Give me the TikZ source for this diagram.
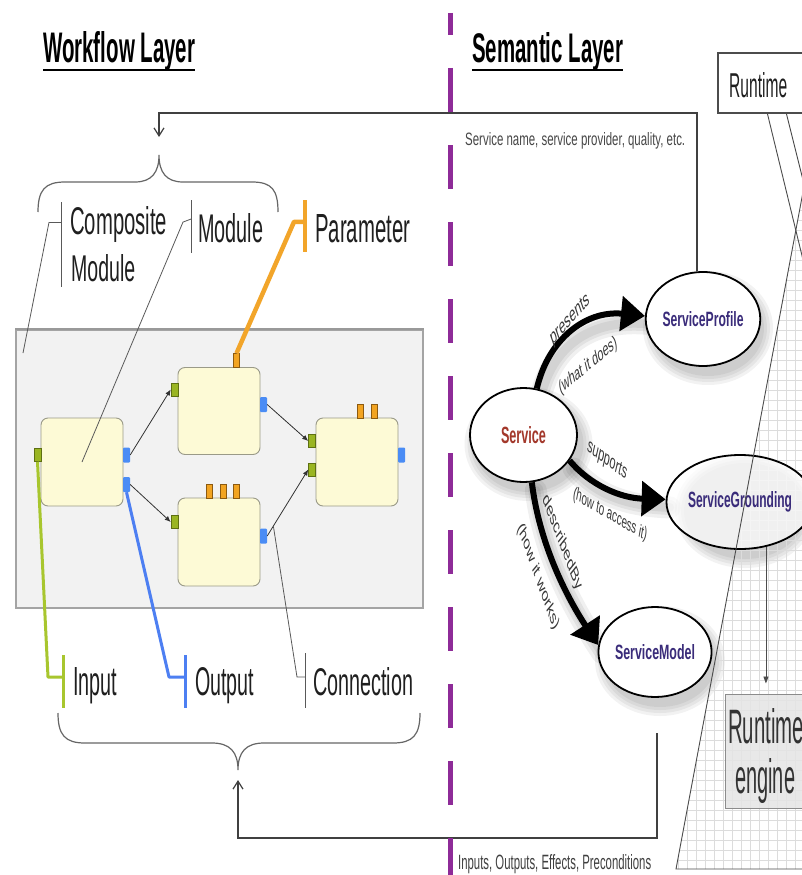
\documentclass[tikz,border=0pt]{standalone}
\usepackage{fontspec}
\setmainfont{Liberation Sans}
\usepackage{graphicx}
\usetikzlibrary{shapes.geometric,arrows.meta,calc}
\pgfdeclarelayer{bg}
\pgfsetlayers{bg,main}

\definecolor{panelfill}{HTML}{F2F2F2}
\definecolor{panelline}{HTML}{A4A4A4}
\definecolor{modfill}{HTML}{FDFAD6}
\definecolor{modline}{HTML}{9A9A88}
\definecolor{portgreen}{HTML}{9AB522}
\definecolor{portgreenline}{HTML}{5E7012}
\definecolor{portblue}{HTML}{4A8CF5}
\definecolor{portorange}{HTML}{F2A422}
\definecolor{portorangeline}{HTML}{8C5A10}
\definecolor{inleader}{HTML}{A8C62E}
\definecolor{outleader}{HTML}{4D7FF2}
\definecolor{parleader}{HTML}{F2A52A}
\definecolor{layerpurple}{HTML}{8E2B98}
\definecolor{svcred}{HTML}{A3382B}
\definecolor{svcblue}{HTML}{3A2C7A}
\definecolor{gridgray}{HTML}{DCDCDC}

% text squeezed to a given width and cap height (in pt)
\newcommand\fitt[3]{\resizebox{#1pt}{#2pt}{#3}}
% label set along a curved arrow: centre, angle, size, text, name
\newcommand\arclabel[5]{\begin{scope}[shift={#1},xscale=0.55]
  \node[arclbl,rotate=#2] (#5) {\fontsize{#3}{#3}\selectfont #4};\end{scope}}

\begin{document}
\begin{tikzpicture}[x=1pt,y=-1pt,
  module/.style={draw=modline, fill=modfill, rounded corners=7pt, line width=0.9pt,
    minimum width=82pt, minimum height=88pt, inner sep=0pt},
  gport/.style={draw=portgreenline, fill=portgreen, line width=0.5pt,
    minimum width=7pt, minimum height=13pt, inner sep=0pt},
  bport/.style={fill=portblue, rounded corners=1pt, minimum width=7pt,
    minimum height=15pt, inner sep=0pt},
  oport/.style={draw=portorangeline, fill=portorange, line width=0.5pt,
    minimum width=6pt, minimum height=14pt, inner sep=0pt},
  flow/.style={draw=black!80, line width=0.8pt, -{Latex[length=6pt,width=5pt]}},
  thinlead/.style={draw=black!65, line width=0.8pt},
  glead/.style={draw=inleader, line width=3pt},
  blead/.style={draw=outleader, line width=3pt},
  olead/.style={draw=parleader, line width=4.5pt},
  lbl/.style={anchor=base west, inner sep=0pt, text=black!88},
  brace/.style={draw=black!60, line width=1.2pt},
  conn/.style={draw=black!75, line width=1.8pt},
  openhead/.style={-{Straight Barb[length=8pt,width=10pt,line width=1.2pt]}},
  svc/.style={ellipse, draw=black, line width=1.8pt, fill=white, inner sep=0pt},
  bigarrow/.style={draw=black, line width=6pt, -{Triangle[length=24pt,width=34pt]}},
  arrowshade/.style={draw=black, line width=#1, opacity=0.06, line cap=round},
  arclbl/.style={inner sep=0pt, text=black!78, transform shape},
]
\useasboundingbox (0,0) rectangle (801,875);
\begin{pgfonlayer}{bg}
  \fill[white] (0,0) rectangle (801,875);
\end{pgfonlayer}

% ---------------- titles ----------------
\node[lbl, text=black] (wfTitle) at (43,63) {\fitt{152}{31}{\bfseries Workflow Layer}};
\draw[line width=2.4pt] ([yshift=-7pt]wfTitle.base west) -- ([yshift=-7pt]wfTitle.base east);
\node[lbl, text=black] (smTitle) at (472,63) {\fitt{151}{30}{\bfseries Semantic Layer}};
\draw[line width=2.4pt] ([yshift=-7pt]smTitle.base west) -- ([yshift=-7pt]smTitle.base east);

% ---------------- workflow panel ----------------
\node[draw=panelline, fill=panelfill, line width=1.6pt, minimum width=407pt,
  minimum height=278pt, inner sep=0pt] (panel) at (219.5,469) {};
\draw[black!40, line width=2.2pt] (panel.north west) -- (panel.north east);

\node[module] (m1) at (82,462) {};
\node[module, minimum height=87pt] (m2) at (219,411) {};
\node[module] (m3) at (219,542) {};
\node[module] (m4) at (357,462) {};

\node[gport] (i1) at (37.5,455) {};
\node[gport] (i2) at (174.5,389.5) {};
\node[gport] (i3) at (174.5,522) {};
\node[gport] (i4a) at (312,441) {};
\node[gport] (i4b) at (312,469.5) {};
\node[bport] (o1a) at (126.5,455) {};
\node[bport] (o1b) at (126.5,484.5) {};
\node[bport] (o2) at (263.5,404.5) {};
\node[bport] (o3) at (263.5,536) {};
\node[bport] (o4) at (401.5,455) {};
\node[oport] (p2) at (236.5,360.5) {};
\node[oport] (p3a) at (209,491) {};
\node[oport] (p3b) at (223,491) {};
\node[oport] (p3c) at (236.5,491) {};
\node[oport] (p4a) at (360,411) {};
\node[oport] (p4b) at (374,411) {};

\draw[flow] (o1a.east) -- (i2.west);
\draw[flow] (o1b.east) -- (i3.west);
\draw[flow] (o2.east) -- (i4a.west);
\draw[flow] (o3.east) -- (i4b.west);

% ---------------- element labels ----------------
\node[lbl] (tComposite) at (70,234) {\fitt{97}{28}{Composite}};
\node[lbl] (tCModule) at (71,281) {\fitt{64}{27}{Module}};
\node[lbl] (tModule) at (198,242) {\fitt{65}{29}{Module}};
\node[lbl] (tParam) at (315,242) {\fitt{95}{28}{Parameter}};
\node[lbl] (tInput) at (73,695) {\fitt{44}{28}{Input}};
\node[lbl] (tOutput) at (195,695) {\fitt{59}{28}{Output}};
\node[lbl] (tConn) at (313,695) {\fitt{100}{28}{Connection}};

% leader ticks
\coordinate (cmTop) at (61,202);  \coordinate (cmBot) at (61,287);
\coordinate (mdTop) at (191,200); \coordinate (mdBot) at (191,253);
\coordinate (paTop) at (305,200); \coordinate (paBot) at (305,252);
\coordinate (inTop) at (63,655);  \coordinate (inBot) at (63,708);
\coordinate (ouTop) at (185,655); \coordinate (ouBot) at (185,708);
\coordinate (coTop) at (305,653); \coordinate (coBot) at (305,708);
\coordinate (cmEnd) at (23,353);

\draw[thinlead] (cmTop) -- (cmBot);
\draw[thinlead] (mdTop) -- (mdBot);
\draw[olead] (paTop) -- (paBot);
\draw[glead] (inTop) -- (inBot);
\draw[blead] (ouTop) -- (ouBot);
\draw[thinlead] (coTop) -- (coBot);

% leader lines
\draw[thinlead] ($(cmTop)!0.24!(cmBot)$) -- ++(-12,0) -- (cmEnd);
\draw[thinlead] ($(mdTop)!0.36!(mdBot)$) -- ++(-8,3) -- (m1.center);
\draw[olead, line join=round] ($(paTop)!0.42!(paBot)$) -- ++(-11,0) -- (p2.north);
\draw[glead, line join=round] (i1.south) -- (48,677) -- (inTop |- 0,677);
\draw[blead, line join=round] (o1b.south) -- (169,677) -- (ouTop |- 0,677);
\draw[thinlead] ($(o3.east)!0.15!(i4b.west)$) -- (297,677) -- (coTop |- 0,677);

% braces
\coordinate (braceTopTip) at (159,155);
\coordinate (braceBotTip) at (238,770);
\draw[brace] (38,212) .. controls (38,190) and (45,182) .. (65,182) -- (135,182)
  .. controls (152,182) and (159,172) .. (braceTopTip)
  .. controls (159,172) and (166,182) .. (183,182) -- (252,182)
  .. controls (272,182) and (278,190) .. (278,212);
\draw[brace] (58,713) .. controls (58,735) and (65,743) .. (85,743) -- (212,743)
  .. controls (230,743) and (238,752) .. (braceBotTip)
  .. controls (238,752) and (246,743) .. (264,743) -- (393,743)
  .. controls (413,743) and (420,735) .. (420,713);
\coordinate (wfTop) at (159,137);
\coordinate (wfBottom) at (238,780);

% ---------------- runtime grid ----------------
\begin{scope}
  \clip (806,176) -- (676,869) -- (812,869) -- (812,176) -- cycle;
  \foreach \gx in {678,687,...,810} \draw[gridgray, line width=0.5pt] (\gx,170) -- (\gx,872);
  \foreach \gy in {180,190,...,870} \draw[gridgray, line width=0.5pt] (670,\gy) -- (812,\gy);
\end{scope}

% ---------------- semantic layer ----------------
\node[svc, minimum width=107pt, minimum height=94pt] (service) at (523.5,435)
  {\textcolor{svcred}{\fitt{45}{17}{\bfseries Service}}};
\node[svc, minimum width=110pt, minimum height=94pt] (profile) at (703,319)
  {\textcolor{svcblue}{\fitt{81}{15}{\bfseries ServiceProfile}}};
\node[svc, minimum width=120pt, minimum height=94pt, fill opacity=0.7, text opacity=1]
  (grounding) at (740,502)
  {\textcolor{svcblue}{\fitt{104}{16}{\bfseries ServiceGrounding}}};
\node[svc, minimum width=110pt, minimum height=90pt] (model) at (655,652)
  {\textcolor{svcblue}{\fitt{80}{15}{\bfseries ServiceModel}}};

\begin{pgfonlayer}{bg}
  \foreach \nd/\rx/\ry in {service/54/47, profile/55/47, grounding/60/47, model/55/45} {
    \foreach \gr in {10,7,4,1} {
      \fill[black, opacity=0.05, transform canvas={shift={(5pt,-9pt)}}]
        (\nd.center) ellipse [x radius=\rx+\gr, y radius=\ry+\gr];
    }
  }
  \foreach \wd in {22pt,15pt,9pt} {
    \draw[arrowshade=\wd, transform canvas={shift={(4pt,-8pt)}}]
      (service.74) .. controls (548,340) and (585,310) .. (profile.177);
    \draw[arrowshade=\wd, transform canvas={shift={(4pt,-8pt)}}]
      (service.-29) .. controls (590,485) and (620,498) .. (grounding.178);
    \draw[arrowshade=\wd, transform canvas={shift={(4pt,-8pt)}}]
      (service.-80) .. controls (540,550) and (572,605) .. (model.173);
  }
\end{pgfonlayer}

\draw[bigarrow] (service.74) .. controls (548,340) and (585,310) .. (profile.177);
\draw[bigarrow] (service.-29) .. controls (590,485) and (620,498) .. (grounding.178);
\draw[bigarrow] (service.-80) .. controls (540,550) and (572,605) .. (model.173);

\arclabel{(570,320)}{31.9}{21}{presents}{lPresents}
\arclabel{(588,366)}{24.4}{19}{(what it does)}{lWhat}
\arclabel{(607,461)}{-22.2}{20}{supports}{lSupports}
\arclabel{(610,515)}{-17.7}{18}{(how to access it)}{lAccess}
\arclabel{(562,543)}{-55.6}{20.4}{describedBy}{lDescribed}
\arclabel{(538,577)}{-57.1}{20}{(how it works)}{lWorks}

\node[lbl, text=black!72] (tProfileInfo) at (465,145)
  {\fitt{220}{13}{Service name, service provider, quality, etc.}};
\node[lbl, text=black!75] (tIOPE) at (458,869)
  {\fitt{193}{15}{Inputs, Outputs, Effects, Preconditions}};

% connectors between the layers
\draw[conn, openhead] (profile.97) |- ($(wfTop)+(0,-24)$) -- (wfTop);
\coordinate (bmStart) at (657,733);
\draw[conn, openhead] (bmStart) -- ++(0,105) -| (wfBottom);

% ---------------- runtime region ----------------
\draw[black!70, line width=0.9pt] (806,176) -- (676,869) -- (805,869);

\node[draw=black!70, fill=white, line width=1.2pt, minimum width=112pt,
  minimum height=60pt, inner sep=0pt] (rtbox) at (774,83) {};
\node[lbl] (tRuntime) at (729,97) {\fitt{58}{25}{Runtime}};
\draw[black!70, line width=0.9pt] ([xshift=50pt]rtbox.south west) -- (805,268);
\draw[black!70, line width=0.9pt] ([xshift=69pt]rtbox.south west) -- (805,188);

\node[draw=black!45, fill=black!10, fill opacity=0.85, line width=1pt, minimum width=116pt,
  minimum height=114pt, inner sep=0pt] (engine) at (783,751) {};
\node[lbl, text=black!80] (tEngine1) at (728,743) {\fitt{76}{35}{Runtime}};
\node[lbl, text=black!80] (tEngine2) at (735,793) {\fitt{60}{35}{engine}};
\draw[black!70, line width=0.8pt, -{Triangle[length=7pt,width=5pt]}]
  (grounding.-60) -- ($(grounding.-60 |- engine.north)+(0,-10)$);

% ---------------- layer divider ----------------
\draw[layerpurple, line width=5pt] (450,13) -- (450,35);
\draw[layerpurple, line width=5pt, dash pattern=on 44pt off 33pt] (450,68) -- (450,880);
\end{tikzpicture}
\end{document}
